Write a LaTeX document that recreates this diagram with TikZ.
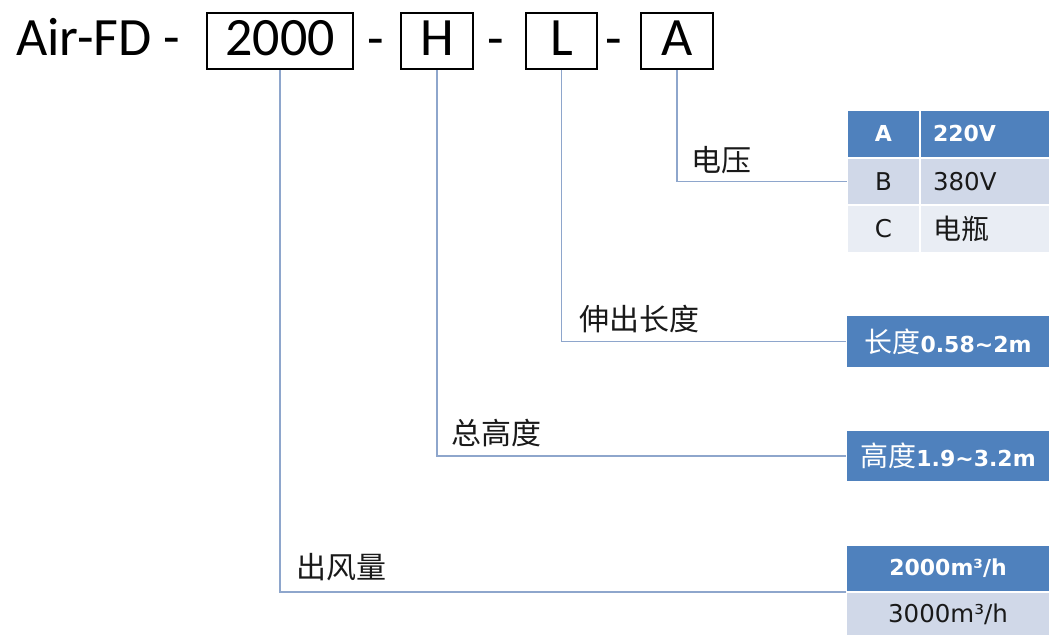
\documentclass[tikz,border=0pt]{standalone}
\usepackage{fontspec}
\setmainfont{Carlito}
\newfontfamily\cjk{Noto Sans CJK SC}
\newfontfamily\boxfont{DejaVu Sans}
\definecolor{tblue}{HTML}{4F81BD}
\definecolor{trow}{HTML}{D0D8E8}
\definecolor{trowlight}{HTML}{E9EDF4}
\definecolor{connline}{HTML}{8EA6CC}
\begin{document}
\begin{tikzpicture}[x=1pt,y=-1pt,
            codebox/.style={draw,line width=2.4pt,inner sep=0pt,minimum height=56pt,text depth=6pt,font=\fontsize{54}{60}\selectfont},
            sep/.style={font=\fontsize{54}{60}\selectfont,inner sep=0pt,anchor=base},
            cell/.style={draw=white,line width=2pt,inner sep=0pt,outer sep=0pt,minimum height=47.5pt,text=black!90,font=\boxfont\fontsize{24.5}{28}\selectfont},
            keycell/.style={cell,minimum width=73pt},
            valcell/.style={cell,minimum width=130pt,text width=104pt,inner xsep=13pt,align=left},
            widecell/.style={cell,minimum width=204pt,align=center},
            head/.style={fill=tblue,text=white,font=\boxfont\bfseries\fontsize{22}{26}\selectfont},
            label/.style={font=\cjk\fontsize{30}{34}\selectfont,inner sep=0pt,anchor=west,text=black!90},
            conn/.style={draw=connline,line width=1.5pt}
        ]
            \useasboundingbox[fill=white] (0,0) rectangle (1050,635);

            % model code
            \node[sep,anchor=base west] (model) at (16,55) {Air-FD -};
            \node[codebox,minimum width=146pt] (c2000) at (280,41) {2000};
            \node[sep] (d1) at (376,56) {-};
            \node[codebox,minimum width=72pt] (cH) at (437,41) {H};
            \node[sep] (d2) at (495.5,56) {-};
            \node[codebox,minimum width=71pt] (cL) at (561.5,41) {L};
            \node[sep] (d3) at (614,56) {-};
            \node[codebox,minimum width=72pt] (cA) at (677,41) {A};

            % voltage table
            \node[keycell,head] (vAk) at (883.5,133.75) {A};
            \node[valcell,head] (vAv) at (985,133.75) {220V};
            \node[keycell,fill=trow] (vBk) at (883.5,181.25) {B};
            \node[valcell,fill=trow] (vBv) at (985,181.25) {380V};
            \node[keycell,fill=trowlight] (vCk) at (883.5,228.75) {C};
            \node[valcell,fill=trowlight] (vCv) at (985,228.75) {{\cjk\fontsize{28}{32}\selectfont 电瓶}};

            % length, height, air flow
            \node[widecell,head,minimum height=53pt] (len) at (948,341.5) {{\cjk\mdseries\fontsize{28}{32}\selectfont 长度}0.58\textasciitilde2m};
            \node[widecell,head,minimum height=52pt] (hgt) at (948,456) {{\cjk\mdseries\fontsize{28}{32}\selectfont 高度}1.9\textasciitilde3.2m};
            \node[widecell,head,minimum height=47pt] (flowA) at (948,568) {2000m³/h};
            \node[widecell,fill=trow,minimum height=44pt] (flowB) at (948,614) {3000m³/h};

            % labels
            \node[label] (voltlbl) at (691,160) {电压};
            \node[label] (lenlbl) at (579,319) {伸出长度};
            \node[label] (hgtlbl) at (451,433) {总高度};
            \node[label] (flowlbl) at (296,567) {出风量};

            \draw[conn] (cA.south) |- (vBk.west);
            \draw[conn] (cL.south) |- (len.west);
            \draw[conn] (cH.south) |- (hgt.west);
            \draw[conn] (c2000.south) |- (flowB.north west);
        \end{tikzpicture}
\end{document}
